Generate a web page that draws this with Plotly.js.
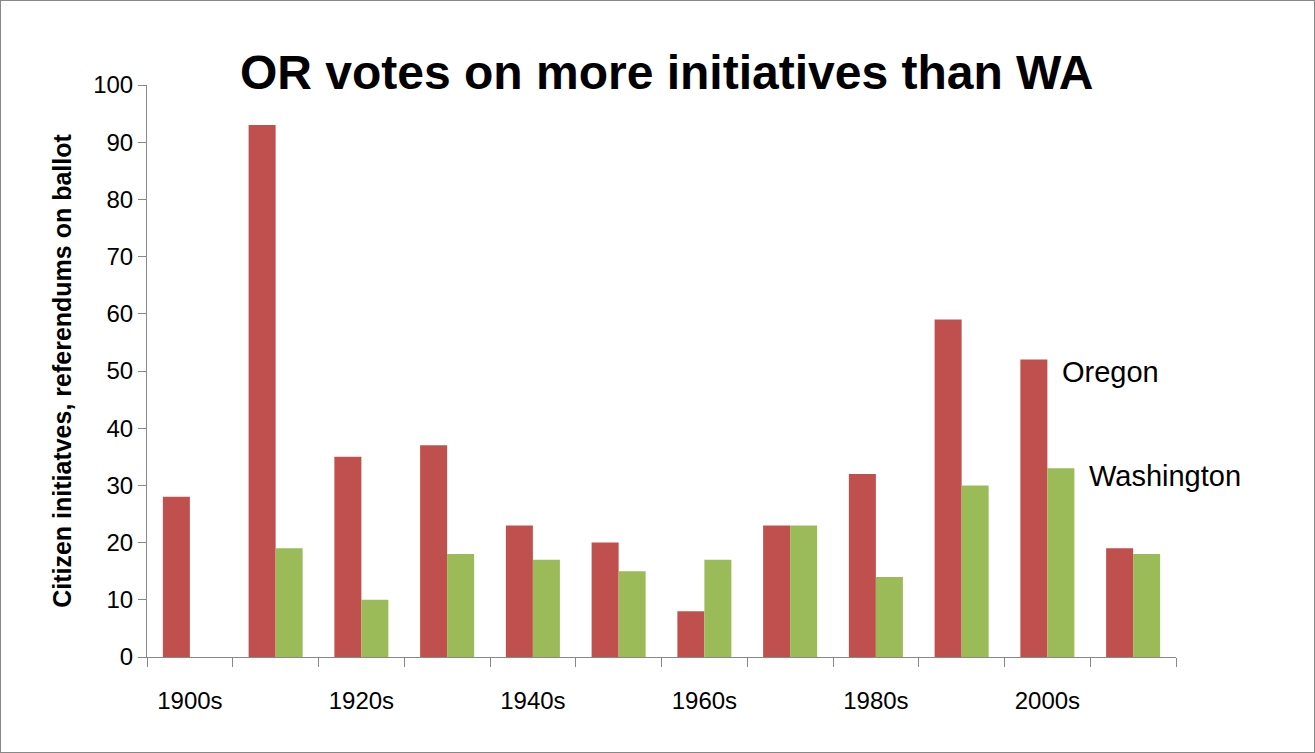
<!DOCTYPE html>
<html>
<head>
<script src="https://cdn.plot.ly/plotly-3.0.1.min.js"></script>
<style>
body { margin: 0; }
#chart { width: 1313px; height: 751px; border: 1px solid #888; }
</style>
</head>
<body>
<div id="chart"></div>
<script>
// data -----------------------------------------------------------------------
const decades = ["1900s", "1910s", "1920s", "1930s", "1940s", "1950s",
	"1960s", "1970s", "1980s", "1990s", "2000s", "2010s"];
const oregon = [28, 93, 35, 37, 23, 20, 8, 23, 32, 59, 52, 19];
const washington = [0, 19, 10, 18, 17, 15, 17, 23, 14, 30, 33, 18];
const labelIdx = [0, 2, 4, 6, 8, 10];

const xs = decades.map((d, i) => i);
const font = "Liberation Sans, Arial, sans-serif";

const data = [
	{ x: xs, y: oregon, type: "bar", name: "Oregon", marker: { color: "#C0504D" } },
	{ x: xs, y: washington, type: "bar", name: "Washington", marker: { color: "#9BBB59" } },
];

const layout = {
	width: 1313,
	height: 751,
	margin: { l: 146, r: 138, t: 84, b: 95 },
	paper_bgcolor: "#fff",
	plot_bgcolor: "#fff",
	showlegend: false,
	barmode: "group",
	bargap: 0.37,
	bargroupgap: 0,
	font: { family: font, size: 24, color: "#000" },
	title: {
		text: "<b>OR votes on more initiatives than WA</b>",
		font: { family: font, size: 48, color: "#000" },
		x: 0.507, xanchor: "center", y: 0.905, yanchor: "middle",
	},
	xaxis: {
		range: [-0.5, 11.5],
		tickmode: "array",
		tickvals: labelIdx,
		ticktext: labelIdx.map((i) => decades[i]),
		ticks: "",
		ticklabelstandoff: 22,
		showline: true,
		linecolor: "#888",
		showgrid: false,
		zeroline: false,
		tickfont: { size: 24 },
		minor: { tick0: -0.5, dtick: 1, ticks: "outside", ticklen: 9, tickcolor: "#888", showgrid: false },
	},
	yaxis: {
		range: [0, 100],
		dtick: 10,
		ticks: "outside",
		ticklen: 8,
		tickcolor: "#888",
		showline: true,
		linecolor: "#888",
		showgrid: false,
		zeroline: false,
		tickfont: { size: 24 },
		title: {
			text: "<b>Citizen initiatves, referendums on ballot</b>",
			font: { size: 25 },
			standoff: 14,
		},
	},
	annotations: [
		{ x: 10.15, y: 49.8, text: "Oregon", showarrow: false, xanchor: "left", yanchor: "middle", font: { size: 29 } },
		{ x: 10.46, y: 31.6, text: "Washington", showarrow: false, xanchor: "left", yanchor: "middle", font: { size: 29 } },
	],
};

Plotly.newPlot("chart", data, layout, { displayModeBar: false });
</script>
</body>
</html>
